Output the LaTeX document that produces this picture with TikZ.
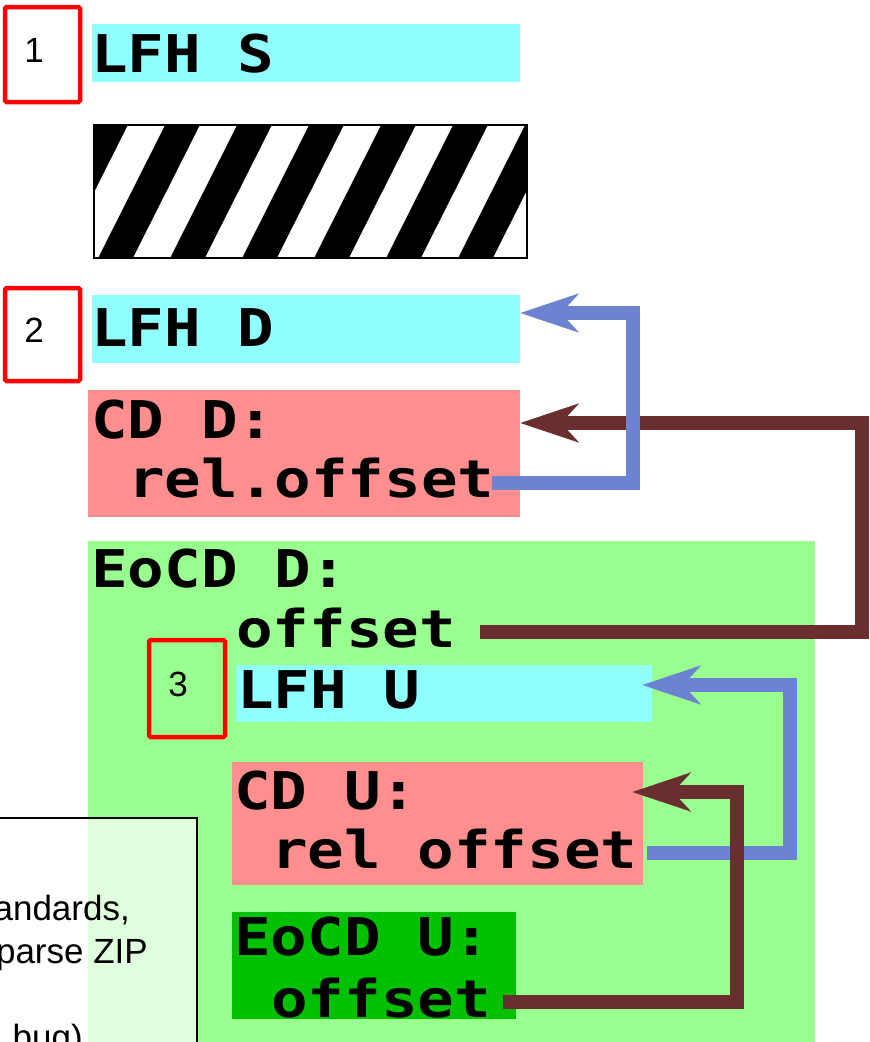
\documentclass[tikz,border=0pt]{standalone}
\usepackage{fontspec}
\usetikzlibrary{arrows.meta,positioning,calc}
\newfontfamily\fieldfont{DejaVu Sans Mono}[FakeStretch=1.17]
\newfontfamily\notefont{Liberation Sans}

\definecolor{lfhcyan}{HTML}{8FFFFF}
\definecolor{cdpink}{HTML}{FF8F8F}
\definecolor{eocdgreen}{HTML}{99FF8F}
\definecolor{eocddark}{HTML}{00C000}
\definecolor{arrblue}{HTML}{6D83D1}
\definecolor{arrbrown}{HTML}{6B2E2E}

\tikzset{
  blk/.style={inner sep=0pt, outer sep=0pt, anchor=north west},
  fieldtxt/.style={font={\fieldfont\bfseries\fontsize{52}{58}\selectfont}, inner sep=0pt, anchor=base west},
  numbox/.style={draw=red, line width=4.5pt, rounded corners=1.5pt},
  numtxt/.style={font={\notefont\fontsize{35}{40}\selectfont}, inner sep=0pt},
  notetxt/.style={font={\notefont\fontsize{35}{43}\selectfont}, inner sep=0pt, anchor=base east},
  bluearr/.style={draw=arrblue, line width=14pt, -{Stealth[length=58pt,width=38pt,inset=17pt]}},
  brownarr/.style={draw=arrbrown, line width=14pt, -{Stealth[length=58pt,width=38pt,inset=17pt]}}
}

\begin{document}
\begin{tikzpicture}[x=1pt,y=-1pt]
	\useasboundingbox (0,0) rectangle (870,1042);
	\clip (0,0) rectangle (870,1042);

	% blocks
	\node[blk, fill=lfhcyan, minimum width=428pt, minimum height=58pt] (lfhS) at (92,24) {};
	\node[blk, fill=lfhcyan, minimum width=428pt, minimum height=68pt] (lfhD) at (92,295) {};
	\node[blk, fill=cdpink, minimum width=432pt, minimum height=127pt] (cdD) at (88,390) {};
	\node[blk, fill=eocdgreen, minimum width=727pt, minimum height=520pt] (eocdD) at (88,541) {};
	\node[blk, fill=lfhcyan, minimum width=416pt, minimum height=57pt] (lfhU) at (236,665) {};
	\node[blk, fill=cdpink, minimum width=411pt, minimum height=123pt] (cdU) at (232,762) {};
	\node[blk, fill=eocddark, minimum width=284pt, minimum height=107pt] (eocdU) at (232,912) {};

	% hatched gap
	\begin{scope}
		\clip (94,125) rectangle (527,258);
		\fill[black] (94,125) rectangle (527,258);
		\foreach \k in {-1,...,6}
			\fill[white] (133+72*\k,258) -- ++(37,0) -- ++(67,-133) -- ++(-37,0) -- cycle;
	\end{scope}
	\node[blk, draw=black, line width=2pt, minimum width=433pt, minimum height=133pt] (gap) at (94,125) {};

	% field texts
	\node[fieldtxt] (lfhStxt) at (91,72) {LFH S};
	\node[fieldtxt] (lfhDtxt) at (91,346) {LFH D};
	\node[fieldtxt] (cdDtxt) at (91,438) {CD D:};
	\node[fieldtxt] (relDtxt) at (128,497) {rel.offset};
	\node[fieldtxt] (eocdDtxt) at (91,587) {EoCD D:};
	\node[fieldtxt] (offDtxt) at (236,647) {offset};
	\node[fieldtxt] (lfhUtxt) at (237,708) {LFH U};
	\node[fieldtxt] (cdUtxt) at (234,809) {CD U:};
	\node[fieldtxt] (relUtxt) at (271,868) {rel offset};
	\node[fieldtxt] (eocdUtxt) at (234,955) {EoCD U:};
	\node[fieldtxt] (offUtxt) at (271,1017) {offset};

	% offsets
	\coordinate (bendA) at (633,313);
	\coordinate (bendB) at (862,423);
	\coordinate (bendC) at (790,685);
	\coordinate (bendD) at (737,792);
	\draw[brownarr] ([xshift=24pt,yshift=15pt]offDtxt.base east) -| (bendB) -- (cdD.east |- bendB);
	\draw[bluearr] ([xshift=-3pt,yshift=14pt]relDtxt.base east) -| (bendA) -- (lfhD.east |- bendA);
	\draw[bluearr] ([xshift=9pt,yshift=15pt]relUtxt.base east) -| (bendC) -- ($(lfhU.east |- bendC)+(-10,0)$);
	\draw[brownarr] ([xshift=12pt,yshift=15pt]offUtxt.base east) -| (bendD) -- ($(cdU.east |- bendD)+(-11,0)$);

	% numbered marks
	\node[blk, numbox, minimum width=75pt, minimum height=95pt] (mark1) at (5,7) {};
	\node[numtxt] (num1) at (34,50) {1};
	\node[blk, numbox, minimum width=75pt, minimum height=93pt] (mark2) at (5,288) {};
	\node[numtxt] (num2) at (34,330) {2};
	\node[blk, numbox, minimum width=76pt, minimum height=97pt] (mark3) at (149,640) {};
	\node[numtxt] (num3) at (178,684) {3};

	% note overlay
	\draw[fill=white, fill opacity=0.7, line width=1.5pt] (-10,818) rectangle (197,1070);
	\node[notetxt] (note1) at (130,920) {andards,};
	\node[notetxt] (note2) at (148,963) {parse ZIP};
	\node[notetxt] (note3) at (83,1049) {bug)};
\end{tikzpicture}
\end{document}
